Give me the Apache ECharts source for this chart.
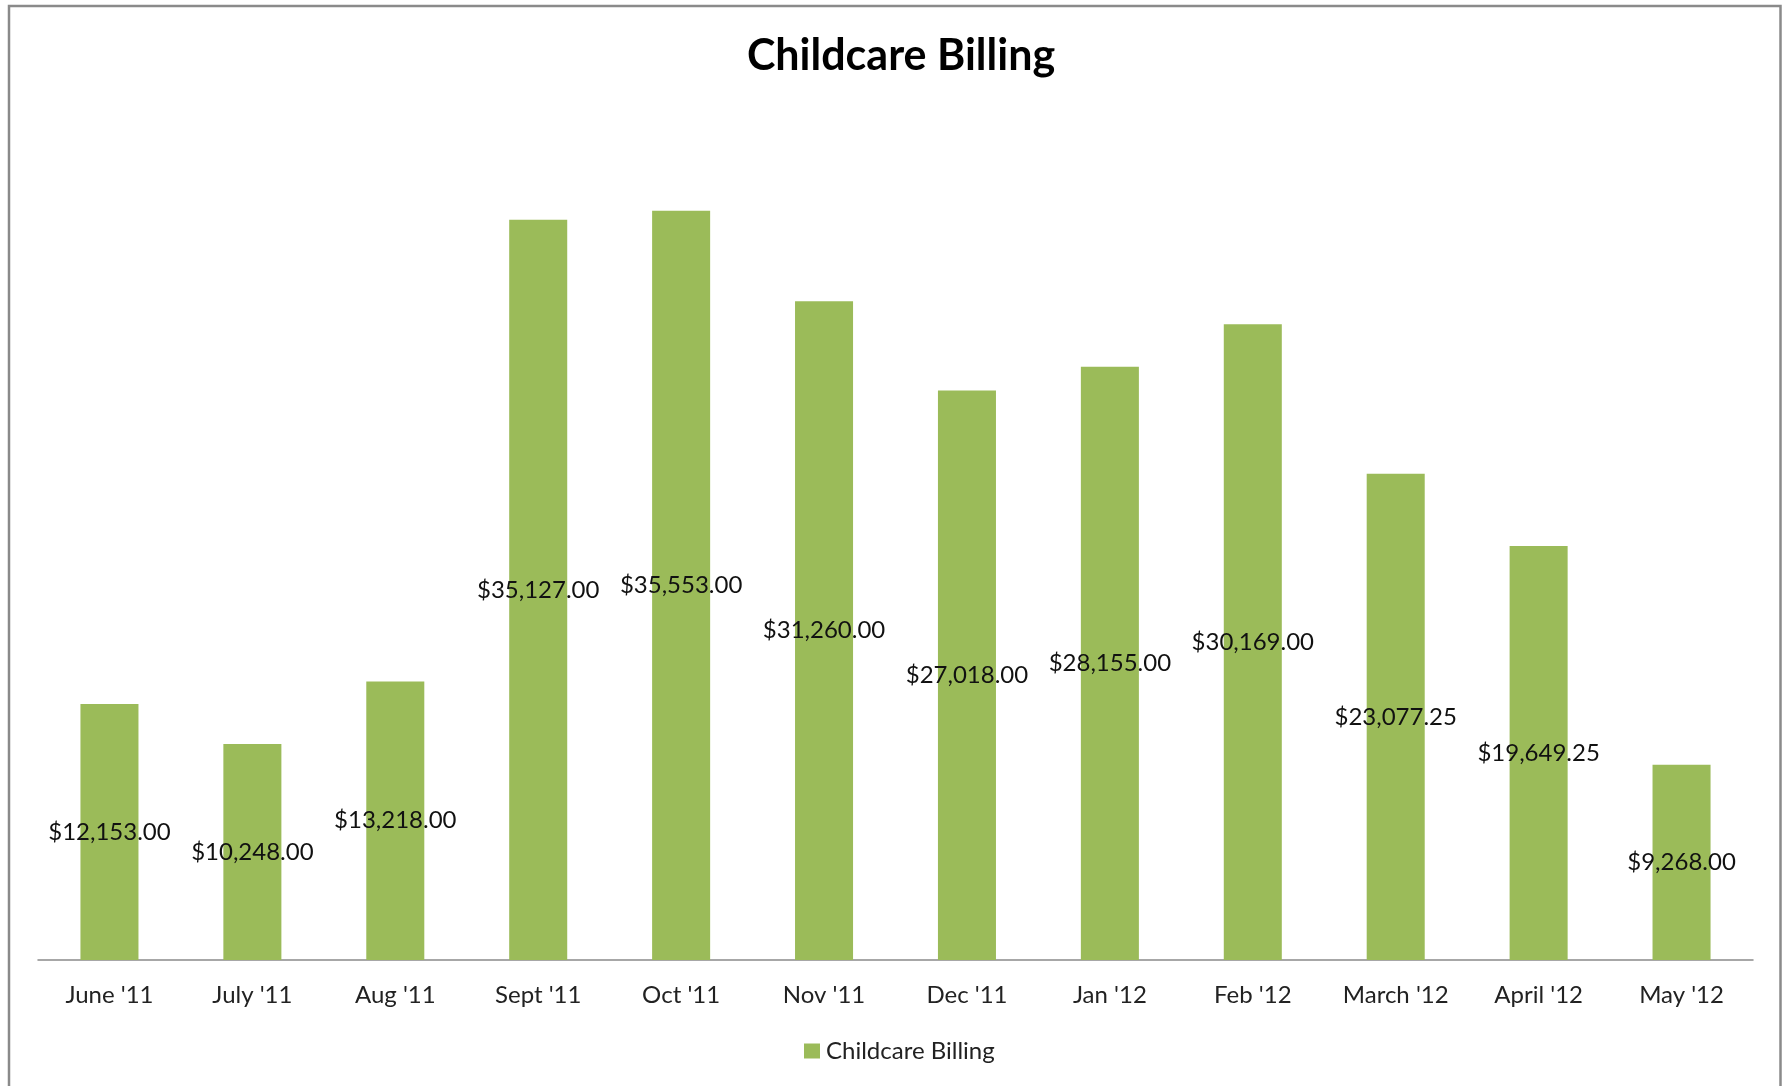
<!DOCTYPE html>
<html>
<head>
<meta charset="utf-8">
<style>
html,body{margin:0;padding:0;background:#fff;}
#chart{width:1786px;height:1086px;}
</style>
<script src="https://cdn.jsdelivr.net/npm/echarts@6/dist/echarts.min.js"></script>
</head>
<body>
<div id="chart"></div>
<script>
var categories = ["June '11","July '11","Aug '11","Sept '11","Oct '11","Nov '11","Dec '11","Jan '12","Feb '12","March '12","April '12","May '12"];
var billing = [12153.00,10248.00,13218.00,35127.00,35553.00,31260.00,27018.00,28155.00,30169.00,23077.25,19649.25,9268.00];
var seriesName = 'Childcare Billing';
var titleText = 'Childcare Billing';

var font = 'Lato, "Open Sans", sans-serif';
var chart = echarts.init(document.getElementById('chart'));
function money(v){
  return '$' + Number(v).toLocaleString('en-US',{minimumFractionDigits:2,maximumFractionDigits:2});
}
chart.setOption({
  backgroundColor:'#fff',
  animation:false,
  title:{
    text:titleText,
    left:896, top:30, textAlign:'center',
    textStyle:{fontFamily:font,fontWeight:'bold',fontSize:43,color:'#000'}
  },
  legend:{
    data:[seriesName],
    left:799, top:1034,
    icon:'rect', itemWidth:16, itemHeight:15, itemGap:10,
    textStyle:{fontFamily:font,fontSize:24,color:'#222',padding:[0,0,0,1]}
  },
  graphic:[{
    type:'rect', silent:true, z:-1,
    shape:{x:9,y:6,width:1771.5,height:1100},
    style:{fill:'none',stroke:'#8a8a8a',lineWidth:2.5}
  }],
  grid:{left:38,right:33,top:117,bottom:126,containLabel:false},
  xAxis:{
    type:'category', data:categories,
    axisLine:{lineStyle:{color:'#8a8a8a',width:1.5}},
    axisTick:{show:false},
    axisLabel:{fontFamily:font,fontSize:24,color:'#222',margin:23}
  },
  yAxis:{
    type:'value', min:0, max:40000, interval:5000, show:false,
    splitLine:{show:false}
  },
  series:[{
    name:seriesName, type:'bar', data:billing,
    barWidth:'40.6%',
    itemStyle:{color:'#9BBB59'},
    label:{show:true,position:'inside',formatter:function(p){return money(p.value);},
      fontFamily:font,fontSize:24,color:'#111'}
  }]
});
</script>
</body>
</html>
